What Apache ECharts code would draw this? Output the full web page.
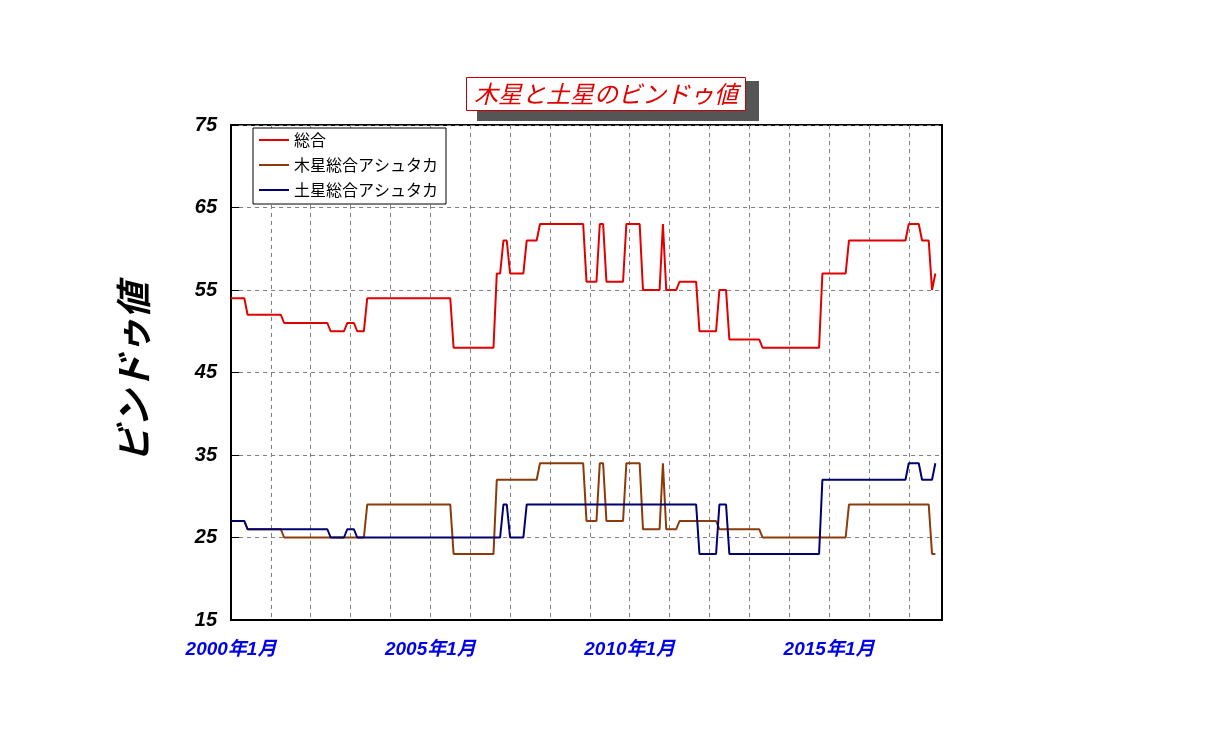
<!DOCTYPE html>
<html><head><meta charset="utf-8">
<script src="https://cdn.jsdelivr.net/npm/echarts@6/dist/echarts.min.js"></script>
<style>html,body{margin:0;padding:0;background:#fff}#c{width:1212px;height:745px}</style>
</head><body><div id="c"></div>
<script>
// run-length data: [value, months]
const jupiterRuns = [[27,5],[26,11],[25,25],[29,26],[23,13],[32,13],[34,14],[27,4],[34,2],[27,6],[34,5],[26,6],[34,1],[26,4],[27,12],[26,13],[25,26],[29,25],[23,2]];
const saturnRuns = [[27,5],[26,25],[25,5],[26,3],[25,44],[29,2],[25,5],[29,52],[23,6],[29,3],[23,28],[32,26],[34,4],[32,4],[34,1]];
const seriesNames = ['総合','木星総合アシュタカ','土星総合アシュタカ'];
const startYear = 2000;

function expand(runs){const out=[];runs.forEach(([v,n])=>{for(let i=0;i<n;i++)out.push(v);});return out;}
const jupiter = expand(jupiterRuns);
const saturn = expand(saturnRuns);
const total = jupiter.map((v,i)=>v+saturn[i]);
const categories = jupiter.map((_,i)=>(startYear+Math.floor(i/12))+'年'+(i%12+1)+'月');
const axisLen = 215;
while(categories.length<axisLen){const i=categories.length;categories.push((startYear+Math.floor(i/12))+'年'+(i%12+1)+'月');}

const chart = echarts.init(document.getElementById('c'));
const jp = '"Noto Sans CJK JP"';
chart.setOption({
  animation:false,
  graphic:[{type:'rect',shape:{x:477,y:81,width:282,height:40},style:{fill:'#555'},z:-1}],
  title:{text:'木星と土星のビンドゥ値',left:'center',top:77,
    textStyle:{color:'#e00000',fontStyle:'italic',fontSize:24,fontWeight:'normal',fontFamily:jp},
    borderColor:'#c00000',borderWidth:1,padding:[5,8],backgroundColor:'#fff'},
  legend:{orient:'vertical',left:253,top:128,itemGap:9,padding:[4,8,6,6],
    borderColor:'#000',borderWidth:1,borderRadius:0,backgroundColor:'#fff',
    itemWidth:30,itemHeight:2,icon:'rect',
    textStyle:{fontFamily:jp,fontSize:16,color:'#000',width:188},data:seriesNames},
  grid:{left:231,right:270,top:125,bottom:125,show:true,borderColor:'#000',borderWidth:2},
  xAxis:{type:'category',data:categories,boundaryGap:false,
    axisLine:{lineStyle:{color:'#000',width:2}},axisTick:{show:false},
    axisLabel:{interval:(i)=>i%60===0,color:'#0000ee',fontSize:19,fontWeight:'bold',fontStyle:'italic',fontFamily:'"Liberation Sans",'+jp,margin:20},
    splitLine:{show:true,interval:(i)=>i%12===0&&i>0,lineStyle:{color:'#808080',type:[4,4]}}},
  yAxis:{type:'value',min:15,max:75,interval:10,
    name:'ビンドゥ値',nameLocation:'middle',nameGap:80,nameRotate:90,
    nameTextStyle:{fontSize:36,fontStyle:'italic',fontWeight:'bold',fontFamily:jp,color:'#000'},
    axisLine:{show:true,lineStyle:{color:'#000',width:2}},axisTick:{show:true,inside:true,length:8,lineStyle:{color:'#000'}},
    axisLabel:{color:'#000',fontSize:20,fontWeight:'bold',fontStyle:'italic',fontFamily:'"Liberation Sans"',margin:14},
    splitLine:{lineStyle:{color:'#808080',type:[4,4]}}},
  series:[
    {name:seriesNames[0],type:'line',data:total,symbol:'none',color:'#e00000',lineStyle:{width:2}},
    {name:seriesNames[1],type:'line',data:jupiter,symbol:'none',color:'#8b3a0a',lineStyle:{width:2}},
    {name:seriesNames[2],type:'line',data:saturn,symbol:'none',color:'#000070',lineStyle:{width:2}}
  ]
});
</script></body></html>
